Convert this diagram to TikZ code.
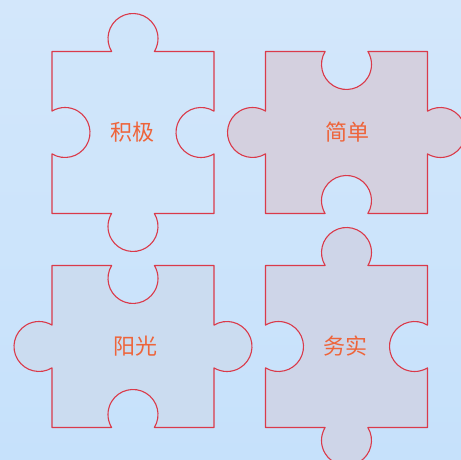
\documentclass[tikz,border=0pt]{standalone}
\usepackage{fontspec}
\newfontfamily\cjk{Noto Sans CJK SC}
\definecolor{bgtop}{HTML}{D3E7FB}
\definecolor{bgbot}{HTML}{C6E1FB}
\definecolor{edgered}{HTML}{DA3A4A}
\definecolor{txtorange}{HTML}{EE643A}
\definecolor{fillA}{HTML}{CFE5FA}
\definecolor{fillB}{HTML}{D4D0DF}
\definecolor{fillC}{HTML}{CBDCF0}
\definecolor{fillD}{HTML}{CED5E8}
\def\pzw{21.35}
\newcommand\pieceA[3]{%
\path[piece,fill=#3] ({#1-81},{#2+81}) -- ({#1-\pzw},{#2+81}) arc[start angle=211.3,end angle=-31.3,radius=25] -- ({#1+81},{#2+81}) -- ({#1+81},{#2+\pzw}) arc[start angle=58.7,end angle=301.3,radius=25] -- ({#1+81},{#2-81}) -- ({#1+\pzw},{#2-81}) arc[start angle=31.3,end angle=-211.3,radius=25] -- ({#1-81},{#2-81}) -- ({#1-81},{#2-\pzw}) arc[start angle=238.7,end angle=481.3,radius=25] -- cycle;}
\newcommand\pieceB[3]{%
\path[piece,fill=#3] ({#1-81},{#2+81}) -- ({#1-\pzw},{#2+81}) arc[start angle=148.7,end angle=391.3,radius=25] -- ({#1+81},{#2+81}) -- ({#1+81},{#2+\pzw}) arc[start angle=121.3,end angle=-121.3,radius=25] -- ({#1+81},{#2-81}) -- ({#1+\pzw},{#2-81}) arc[start angle=-31.3,end angle=211.3,radius=25] -- ({#1-81},{#2-81}) -- ({#1-81},{#2-\pzw}) arc[start angle=-58.7,end angle=-301.3,radius=25] -- cycle;}
\tikzset{
  piece/.style={draw=edgered,line width=1.1pt,line join=round},
  word/.style={text=txtorange,font=\cjk\fontsize{22}{22}\selectfont,inner sep=0pt}
}
\begin{document}
\begin{tikzpicture}[x=1pt,y=1pt]
\useasboundingbox (0,0) rectangle (461,460);
\clip (0,0) rectangle (461,460);
\shade[top color=bgtop,bottom color=bgbot] (0,0) rectangle (461,460);
\pieceA{133}{327.5}{fillA}
\pieceB{346.5}{327.5}{fillB}
\pieceB{133}{113.5}{fillC}
\pieceA{346.5}{113.5}{fillD}
\node[word] (t1) at (132,327.5) {积极};
\node[word] (t2) at (347,327.5) {简单};
\node[word] (t3) at (135,113.5) {阳光};
\node[word] (t4) at (345,113.5) {务实};
\end{tikzpicture}
\end{document}
